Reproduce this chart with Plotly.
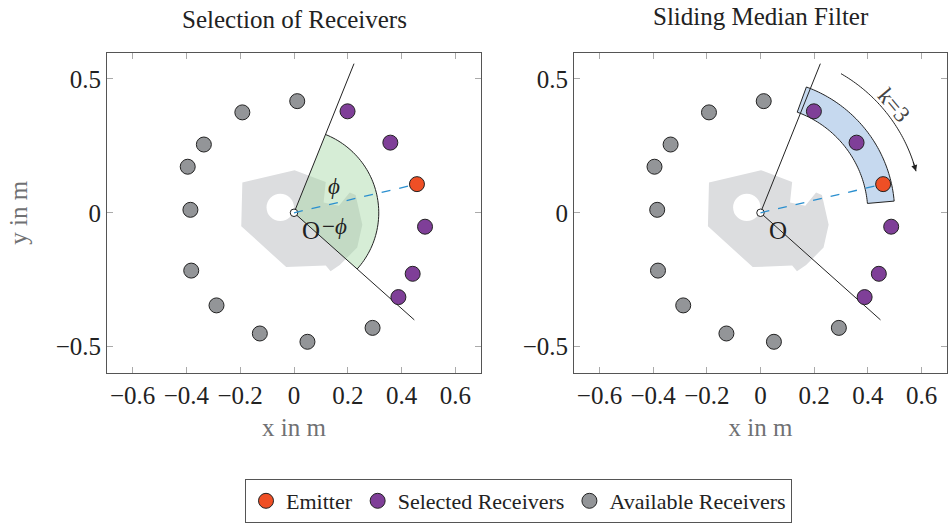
import numpy as np
import plotly.graph_objects as go

# ---------------- data ----------------
EMITTER_X = [0.457]
EMITTER_Y = [0.107]

SELECTED_X = [0.199, 0.358, 0.487, 0.441, 0.388]
SELECTED_Y = [0.379, 0.262, -0.052, -0.228, -0.315]

AVAILABLE_X = [0.012, -0.192, -0.335, -0.395, -0.385, -0.382, -0.288, -0.127, 0.050, 0.292]
AVAILABLE_Y = [0.417, 0.375, 0.255, 0.172, 0.011, -0.216, -0.346, -0.451, -0.482, -0.430]

# obstacle outline (m)
OBST_X = [-0.192, 0.002, 0.118, 0.110, 0.167, 0.207, 0.229, 0.254, 0.235, 0.170, 0.136, 0.118, -0.029, -0.196]
OBST_Y = [0.113, 0.159, 0.115, 0.038, 0.026, 0.076, 0.066, -0.045, -0.130, -0.195, -0.218, -0.197, -0.203, -0.050]
HOLE_X, HOLE_Y, HOLE_R = -0.051, 0.020, 0.051

PHI_DEG = 55.0          # half opening of the selection sector
SECTOR_R = 0.315        # radius of the shaded sector
RAY_LEN = 0.60          # length of the sector boundary rays
BAND_R = (0.40, 0.50)   # sliding window band radii
BAND_DEG = (5.0, 70.0)  # sliding window band angles
SWEEP_R = 0.60          # radius of the sweep arrow
SWEEP_DEG = (60.0, 15.0)

X_TICKS = [-0.6, -0.4, -0.2, 0.0, 0.2, 0.4, 0.6]
X_TICKTEXT = ["−0.6", "−0.4", "−0.2", "0", "0.2", "0.4", "0.6"]
Y_TICKS = [-0.5, 0.0, 0.5]
Y_TICKTEXT = ["−0.5", "0", "0.5"]

C_EMIT = "#ef4f25"
C_SEL = "#7f3f98"
C_AVAIL = "#939598"
FONT = "'Liberation Serif', 'Times New Roman', serif"

# ---------------- geometry helpers ----------------
def pt(r, deg):
    a = np.radians(deg)
    return r * np.cos(a), r * np.sin(a)


def arc_pts(r, a0, a1, n=60):
    return [pt(r, a) for a in np.linspace(a0, a1, n)]


def path_from(points, close=True):
    s = "M " + " L ".join(f"{x:.5f},{y:.5f}" for x, y in points)
    return s + (" Z" if close else "")


emit_deg = np.degrees(np.arctan2(EMITTER_Y[0], EMITTER_X[0]))
lo_deg, hi_deg = emit_deg - PHI_DEG, emit_deg + PHI_DEG

fig = go.Figure()
shapes = []
annotations = []

for k, (xr, yr) in enumerate([("x", "y"), ("x2", "y2")]):
    # obstacle with its circular opening
    shapes.append(dict(type="path", xref=xr, yref=yr, layer="below",
                       path=path_from(list(zip(OBST_X, OBST_Y))),
                       fillcolor="#dcdddf", line=dict(width=0)))
    shapes.append(dict(type="circle", xref=xr, yref=yr, layer="below",
                       x0=HOLE_X - HOLE_R, x1=HOLE_X + HOLE_R,
                       y0=HOLE_Y - HOLE_R, y1=HOLE_Y + HOLE_R,
                       fillcolor="white", line=dict(width=0)))
    if k == 0:
        # shaded selection sector
        sector = [(0, 0)] + arc_pts(SECTOR_R, hi_deg, lo_deg)
        shapes.append(dict(type="path", xref=xr, yref=yr, layer="below",
                           path=path_from(sector),
                           fillcolor="rgba(165,214,165,0.45)", line=dict(width=0)))
        shapes.append(dict(type="path", xref=xr, yref=yr, layer="below",
                           path=path_from(arc_pts(SECTOR_R, hi_deg, lo_deg), close=False),
                           line=dict(color="#222", width=1)))
    else:
        # sliding window band
        band = arc_pts(BAND_R[1], BAND_DEG[1], BAND_DEG[0]) + arc_pts(BAND_R[0], BAND_DEG[0], BAND_DEG[1])
        shapes.append(dict(type="path", xref=xr, yref=yr, layer="below",
                           path=path_from(band),
                           fillcolor="#c6d9ef", line=dict(color="#222", width=1)))
    # boundary rays
    for d in (hi_deg, lo_deg):
        ex, ey = pt(RAY_LEN, d)
        shapes.append(dict(type="line", xref=xr, yref=yr, layer="below",
                           x0=0, y0=0, x1=ex, y1=ey, line=dict(color="#222", width=1)))
    # small circle at the origin
    shapes.append(dict(type="circle", xref=xr, yref=yr, layer="below",
                       x0=-0.014, x1=0.014, y0=-0.014, y1=0.014,
                       fillcolor="white", line=dict(color="#222", width=1)))

    # line of sight to the emitter
    fig.add_trace(go.Scatter(x=[0, EMITTER_X[0]], y=[0, EMITTER_Y[0]], xaxis=xr, yaxis=yr,
                             mode="lines", line=dict(color="#2a8fcf", width=1.3, dash="dash"),
                             showlegend=False, hoverinfo="skip"))
    show = k == 0
    mk = dict(size=15, line=dict(color="#222", width=1))
    fig.add_trace(go.Scatter(x=EMITTER_X, y=EMITTER_Y, xaxis=xr, yaxis=yr, mode="markers",
                             name="Emitter", marker=dict(color=C_EMIT, **mk), showlegend=show))
    fig.add_trace(go.Scatter(x=SELECTED_X, y=SELECTED_Y, xaxis=xr, yaxis=yr, mode="markers",
                             name="Selected Receivers", marker=dict(color=C_SEL, **mk), showlegend=show))
    fig.add_trace(go.Scatter(x=AVAILABLE_X, y=AVAILABLE_Y, xaxis=xr, yaxis=yr, mode="markers",
                             name="Available Receivers", marker=dict(color=C_AVAIL, **mk), showlegend=show))

    annotations.append(dict(xref=xr, yref=yr, x=0.065, y=-0.068, text="O", showarrow=False,
                            font=dict(family=FONT, size=25, color="#222")))

# sector labels
annotations.append(dict(xref="x", yref="y", x=0.150, y=0.100, text="<i>ϕ</i>", showarrow=False,
                        font=dict(family=FONT, size=23, color="#222")))
annotations.append(dict(xref="x", yref="y", x=0.150, y=-0.052, text="−<i>ϕ</i>", showarrow=False,
                        font=dict(family=FONT, size=23, color="#222")))

# sweep arrow of the sliding window
sweep = arc_pts(SWEEP_R, SWEEP_DEG[0], SWEEP_DEG[1])
shapes.append(dict(type="path", xref="x2", yref="y2", path=path_from(sweep, close=False),
                   line=dict(color="#222", width=1)))
tail = pt(SWEEP_R, SWEEP_DEG[1] + 4)
head = pt(SWEEP_R, SWEEP_DEG[1])
annotations.append(dict(xref="x2", yref="y2", axref="x2", ayref="y2",
                        x=head[0], y=head[1], ax=tail[0], ay=tail[1], text="",
                        showarrow=True, arrowhead=2, arrowsize=1.2, arrowwidth=1, arrowcolor="#222"))
annotations.append(dict(xref="x2", yref="y2", x=0.498, y=0.402, text="k=3", textangle=50,
                        showarrow=False, font=dict(family=FONT, size=23, color="#444")))

# subplot titles
annotations.append(dict(xref="paper", yref="paper", x=(107 + 481) / 2 / 948, y=1 - 20 / 523,
                        text="Selection of Receivers", showarrow=False,
                        xanchor="center", yanchor="middle",
                        font=dict(family=FONT, size=25, color="#222")))
annotations.append(dict(xref="paper", yref="paper", x=(574 + 947) / 2 / 948, y=1 - 17 / 523,
                        text="Sliding Median Filter", showarrow=False,
                        xanchor="center", yanchor="middle",
                        font=dict(family=FONT, size=25, color="#222")))

axis_common = dict(showgrid=False, zeroline=False, showline=True, linecolor="#555", linewidth=1,
                   mirror="allticks", ticks="inside", ticklen=6, tickcolor="#aaa",
                   tickfont=dict(family=FONT, size=25, color="#222"))
xaxis_common = dict(axis_common, range=[-0.695, 0.695], tickvals=X_TICKS, ticktext=X_TICKTEXT,
                    title=dict(text="x in m", font=dict(family=FONT, size=25, color="#707173"),
                               standoff=10))
yaxis_common = dict(axis_common, range=[-0.598, 0.598], tickvals=Y_TICKS, ticktext=Y_TICKTEXT)

ydom = [(523 - 375) / 523, (523 - 53) / 523]
fig.update_layout(
    width=948, height=523,
    margin=dict(l=0, r=0, t=0, b=0),
    paper_bgcolor="white", plot_bgcolor="white",
    xaxis=dict(xaxis_common, domain=[107 / 948, 481 / 948], anchor="y"),
    yaxis=dict(yaxis_common, domain=ydom, anchor="x",
               title=dict(text="y in m", font=dict(family=FONT, size=25, color="#707173"),
                          standoff=20)),
    xaxis2=dict(xaxis_common, domain=[574 / 948, 947 / 948], anchor="y2"),
    yaxis2=dict(yaxis_common, domain=ydom, anchor="x2"),
    shapes=shapes,
    annotations=annotations,
    showlegend=True,
    legend=dict(orientation="h", x=518.5 / 948, xanchor="center", y=(523 - 482) / 523, yanchor="top",
                bordercolor="#555", borderwidth=1, font=dict(family=FONT, size=22, color="#222"),
                itemwidth=30, tracegroupgap=0),
)

fig.write_html("out.html")
